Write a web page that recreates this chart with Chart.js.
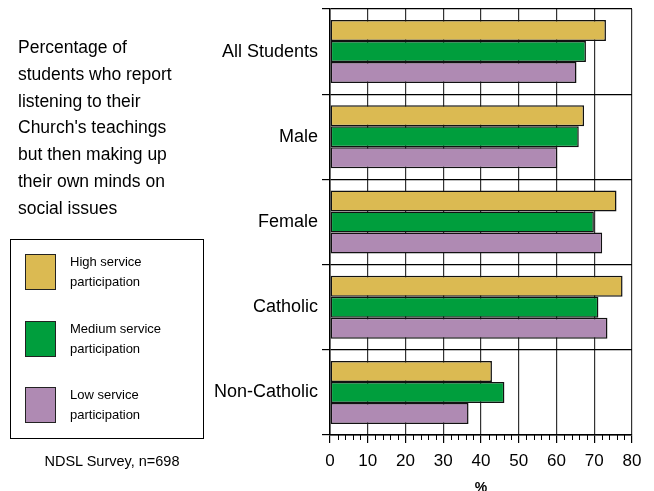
<!DOCTYPE html>
<html>
<head>
<meta charset="utf-8">
<script src="https://cdn.jsdelivr.net/npm/chart.js@4.4.1/dist/chart.umd.min.js"></script>
<style>
	html, body { margin: 0; padding: 0; background: #fff; }
	body { font-family: "Liberation Sans", Arial, sans-serif; color: #000; }
	#wrap { position: relative; width: 654px; height: 491px; overflow: hidden; }
	#chart { position: absolute; left: 0; top: 0; }
	.note { position: absolute; left: 18px; top: 34px; font-size: 17.5px; line-height: 26.8px; }
	.legend { position: absolute; left: 10px; top: 239px; width: 194px; height: 200px; box-sizing: border-box; border: 1.5px solid #000; }
	.item { position: absolute; left: 14px; }
	.swatch { position: absolute; left: 0; top: 0; width: 31px; height: 36px; box-sizing: border-box; border: 1.5px solid #222; }
	.item span { position: absolute; left: 45px; top: -2px; width: 120px; font-size: 13px; line-height: 20px; }
	.source { position: absolute; left: 0; width: 224px; top: 453px; text-align: center; font-size: 14.5px; }
</style>
</head>
<body>
<div id="wrap">
	<canvas id="chart" width="654" height="491"></canvas>
	<div class="note">Percentage of<br>students who report<br>listening to their<br>Church's teachings<br>but then making up<br>their own minds on<br>social issues</div>
	<div class="legend" id="legend"></div>
	<div class="source">NDSL Survey, n=698</div>
</div>
<script>
const categories = ['All Students', 'Male', 'Female', 'Catholic', 'Non-Catholic'];
const seriesNames = ['High service participation', 'Medium service participation', 'Low service participation'];
const seriesColors = ['#DBBA52', '#009E3D', '#AF8AB3'];
const highValues = [73.1, 67.3, 75.9, 77.5, 42.9];
const mediumValues = [67.8, 65.9, 69.9, 71.1, 46.2];
const lowValues = [65.3, 60.2, 72.1, 73.5, 36.7];
const xTicks = { min: 0, max: 80, step: 10, minorStep: 2 };

function buildLegend() {
	const box = document.getElementById('legend');
	const tops = [14, 81, 147];
	seriesNames.forEach((name, i) => {
		const item = document.createElement('div');
		item.className = 'item';
		item.style.top = tops[i] + 'px';
		item.innerHTML = `<div class="swatch" style="background:${seriesColors[i]}"></div><span>${name}</span>`;
		box.appendChild(item);
	});
}

// small ticks under the x axis every 2 units
const minorTicks = {
	id: 'minorTicks',
	afterDraw(chart) {
		const x = chart.scales.x;
		const ctx = chart.ctx;
		const y = chart.chartArea.bottom;
		ctx.save();
		ctx.strokeStyle = '#000';
		ctx.lineWidth = 1;
		for (let v = xTicks.min; v <= xTicks.max; v += xTicks.minorStep) {
			if (v % xTicks.step === 0) continue;
			const px = Math.round(x.getPixelForValue(v)) + 0.5;
			ctx.beginPath();
			ctx.moveTo(px, y);
			ctx.lineTo(px, y + 5);
			ctx.stroke();
		}
		ctx.restore();
	}
};

function renderChart() {
	const values = [highValues, mediumValues, lowValues];
	const ctx = document.getElementById('chart').getContext('2d');
	new Chart(ctx, {
		type: 'bar',
		data: {
			labels: categories,
			datasets: seriesNames.map((name, i) => ({
				label: name,
				data: values[i],
				backgroundColor: seriesColors[i],
				borderColor: '#111',
				borderWidth: 1.5,
				borderSkipped: false,
				categoryPercentage: 0.74,
				barPercentage: 1.0
			}))
		},
		plugins: [minorTicks],
		options: {
			indexAxis: 'y',
			responsive: false,
			animation: false,
			layout: { padding: { top: 9, right: 22, bottom: 0, left: 0 } },
			plugins: {
				legend: { display: false },
				tooltip: { enabled: false }
			},
			scales: {
				x: {
					min: xTicks.min,
					max: xTicks.max,
					ticks: {
						stepSize: xTicks.step,
						color: '#000',
						font: { family: '"Liberation Sans", Arial, sans-serif', size: 17 },
						padding: 8,
						maxRotation: 0
					},
					grid: { color: '#333', lineWidth: 1.2, tickLength: 8, tickColor: '#000' },
					border: { color: '#000', width: 1.5 },
					title: {
						display: true,
						text: '%',
						color: '#000',
						font: { family: '"Liberation Sans", Arial, sans-serif', size: 14, weight: 'bold', lineHeight: 1 },
						padding: { top: 0, bottom: -4 }
					},
					afterFit(scale) { scale.height = 56; }
				},
				y: {
					ticks: {
						color: '#000',
						font: { family: '"Liberation Sans", Arial, sans-serif', size: 18, lineHeight: 0.5 },
						padding: 4
					},
					grid: { color: '#000', lineWidth: 1.2, tickLength: 8 },
					border: { color: '#000', width: 1.5 },
					afterFit(scale) { scale.width = 330; }
				}
			}
		}
	});
}

window.addEventListener('DOMContentLoaded', () => {
	buildLegend();
	renderChart();
});
</script>
</body>
</html>
